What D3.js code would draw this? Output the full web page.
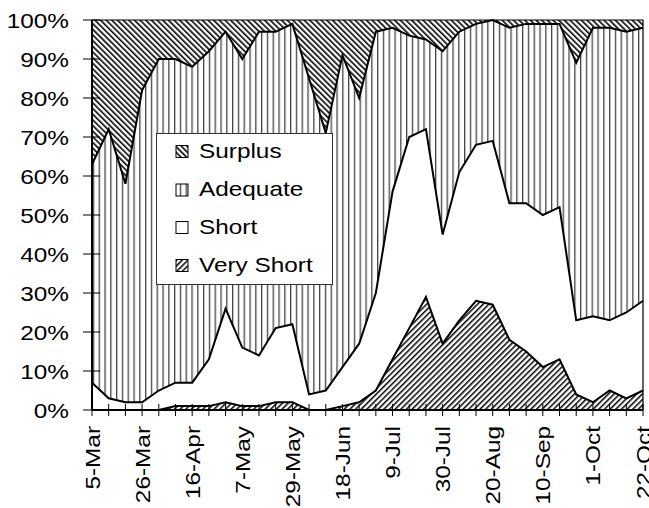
<!DOCTYPE html>
<html>
<head>
<meta charset="utf-8">
<script src="https://cdn.jsdelivr.net/npm/d3@7"></script>
<style>
  html, body { margin: 0; padding: 0; background: #fff; }
  svg { display: block; }
  text { font-family: "Liberation Sans", Arial, sans-serif; font-size: 21px; fill: #000; }
</style>
</head>
<body>
<script>
const dates = ["5-Mar","12-Mar","19-Mar","26-Mar","2-Apr","9-Apr","16-Apr","23-Apr","30-Apr","7-May","14-May","21-May","29-May","4-Jun","11-Jun","18-Jun","25-Jun","2-Jul","9-Jul","16-Jul","23-Jul","30-Jul","6-Aug","13-Aug","20-Aug","27-Aug","3-Sep","10-Sep","17-Sep","24-Sep","1-Oct","8-Oct","15-Oct","22-Oct"];
const veryShort = [0,0,0,0,0,1,1,1,2,1,1,2,2,0,0,1,2,5,13,21,29,17,23,28,27,18,15,11,13,4,2,5,3,5];
const short     = [7,3,2,2,5,6,6,12,24,15,13,19,20,4,5,10,15,25,43,49,43,28,38,40,42,35,38,39,39,19,22,18,22,23];
const adequate  = [56,69,56,80,85,83,81,79,71,74,83,76,77,81,66,80,63,67,42,26,23,47,36,31,31,45,46,49,47,66,74,75,72,70];
const surplus   = [37,28,42,18,10,10,12,8,3,10,3,3,1,15,29,9,20,3,2,4,5,8,3,1,0,2,1,1,1,11,2,2,3,2];
const yTicks = [0,10,20,30,40,50,60,70,80,90,100];
const seriesNames = ["Very Short","Short","Adequate","Surplus"];
const legendOrder = ["Surplus","Adequate","Short","Very Short"];

const W = 649, H = 508;
const mLeft = 92, mRight = 643, mTop = 20, mBottom = 410;
const SX = 1.16;

const rows = dates.map((d, i) => ({
  date: d,
  "Very Short": veryShort[i],
  "Short": short[i],
  "Adequate": adequate[i],
  "Surplus": surplus[i]
}));

const svg = d3.select("body").append("svg").attr("width", W).attr("height", H);
const defs = svg.append("defs");

const HP = 4.0;
// Surplus: "\\" hatching
const pS = defs.append("pattern").attr("id", "pSurplus").attr("patternUnits", "userSpaceOnUse")
  .attr("width", HP).attr("height", HP).attr("patternTransform", "rotate(-45)");
pS.append("rect").attr("width", HP).attr("height", HP).attr("fill", "#fff");
pS.append("rect").attr("width", 1.6).attr("height", HP).attr("fill", "#000");

// Adequate: vertical lines
const pA = defs.append("pattern").attr("id", "pAdequate").attr("patternUnits", "userSpaceOnUse")
  .attr("width", 5.8).attr("height", 10);
pA.append("rect").attr("width", 5.8).attr("height", 10).attr("fill", "#fff");
pA.append("rect").attr("x", 0).attr("width", 1.3).attr("height", 10).attr("fill", "#444");

// Very Short: "//" hatching
const pV = defs.append("pattern").attr("id", "pVery").attr("patternUnits", "userSpaceOnUse")
  .attr("width", HP).attr("height", HP).attr("patternTransform", "rotate(45)");
pV.append("rect").attr("width", HP).attr("height", HP).attr("fill", "#fff");
pV.append("rect").attr("width", 1.5).attr("height", HP).attr("fill", "#000");

const fills = {
  "Very Short": "url(#pVery)",
  "Short": "#fff",
  "Adequate": "url(#pAdequate)",
  "Surplus": "url(#pSurplus)"
};

const x = d3.scalePoint().domain(dates).range([mLeft, mRight]);
const y = d3.scaleLinear().domain([0, 100]).range([mBottom, mTop]);

const stacked = d3.stack().keys(seriesNames)(rows);

const area = d3.area()
  .x(d => x(d.data.date))
  .y0(d => y(d[0]))
  .y1(d => y(d[1]));
const line = d3.line()
  .x(d => x(d.data.date))
  .y(d => y(d[1]));

svg.append("g").selectAll("path.area").data(stacked).join("path")
  .attr("class", "area")
  .attr("d", area)
  .attr("fill", d => fills[d.key]);

// boundary lines
svg.append("g").selectAll("path.bound").data(stacked.slice(0, 3)).join("path")
  .attr("class", "bound")
  .attr("d", line)
  .attr("fill", "none")
  .attr("stroke", "#000")
  .attr("stroke-width", 2)
  .attr("stroke-linejoin", "miter");

// frame top & right
svg.append("path")
  .attr("d", `M${mLeft},${y(100)}H${mRight}V${mBottom}`)
  .attr("fill", "none").attr("stroke", "#000").attr("stroke-width", 1.2);

// Y axis
const yAxis = svg.append("g");
yAxis.append("line").attr("x1", mLeft).attr("x2", mLeft).attr("y1", y(100)).attr("y2", mBottom)
  .attr("stroke", "#000").attr("stroke-width", 2);
yAxis.selectAll("line.tick").data(yTicks).join("line").attr("class", "tick")
  .attr("x1", mLeft - 9).attr("x2", mLeft + 8)
  .attr("y1", d => y(d)).attr("y2", d => y(d))
  .attr("stroke", "#000").attr("stroke-width", 1);
yAxis.selectAll("text").data(yTicks).join("text")
  .attr("transform", d => `translate(69,${y(d)}) scale(${SX},1)`)
  .attr("text-anchor", "end")
  .attr("dy", "0.36em")
  .text(d => d + "%");

// X axis
const xAxis = svg.append("g");
xAxis.append("line").attr("x1", mLeft).attr("x2", mRight).attr("y1", mBottom).attr("y2", mBottom)
  .attr("stroke", "#000").attr("stroke-width", 2);
xAxis.selectAll("line.tick").data(dates).join("line").attr("class", "tick")
  .attr("x1", d => x(d)).attr("x2", d => x(d))
  .attr("y1", mBottom - 6).attr("y2", mBottom + 6)
  .attr("stroke", "#000").attr("stroke-width", 1);
xAxis.selectAll("text").data(dates.filter((d, i) => i % 3 === 0)).join("text")
  .attr("transform", d => `translate(${x(d)},426) rotate(-90) scale(${SX},1)`)
  .attr("text-anchor", "end")
  .attr("dy", "0.36em")
  .text(d => d);

// Legend
const lg = svg.append("g");
lg.append("rect").attr("x", 156.5).attr("y", 133.5).attr("width", 176).attr("height", 151)
  .attr("fill", "#fff").attr("stroke", "#333").attr("stroke-width", 1);
const baselines = [157.5, 196, 233.5, 271.5];
legendOrder.forEach((k, i) => {
  const b = baselines[i];
  lg.append("rect").attr("x", 176).attr("y", b - 12).attr("width", 12).attr("height", 12)
    .attr("fill", fills[k]).attr("stroke", "#000").attr("stroke-width", 1);
  lg.append("text")
    .attr("transform", `translate(199,${b}) scale(${SX},1)`)
    .text(k);
});
</script>
</body>
</html>
